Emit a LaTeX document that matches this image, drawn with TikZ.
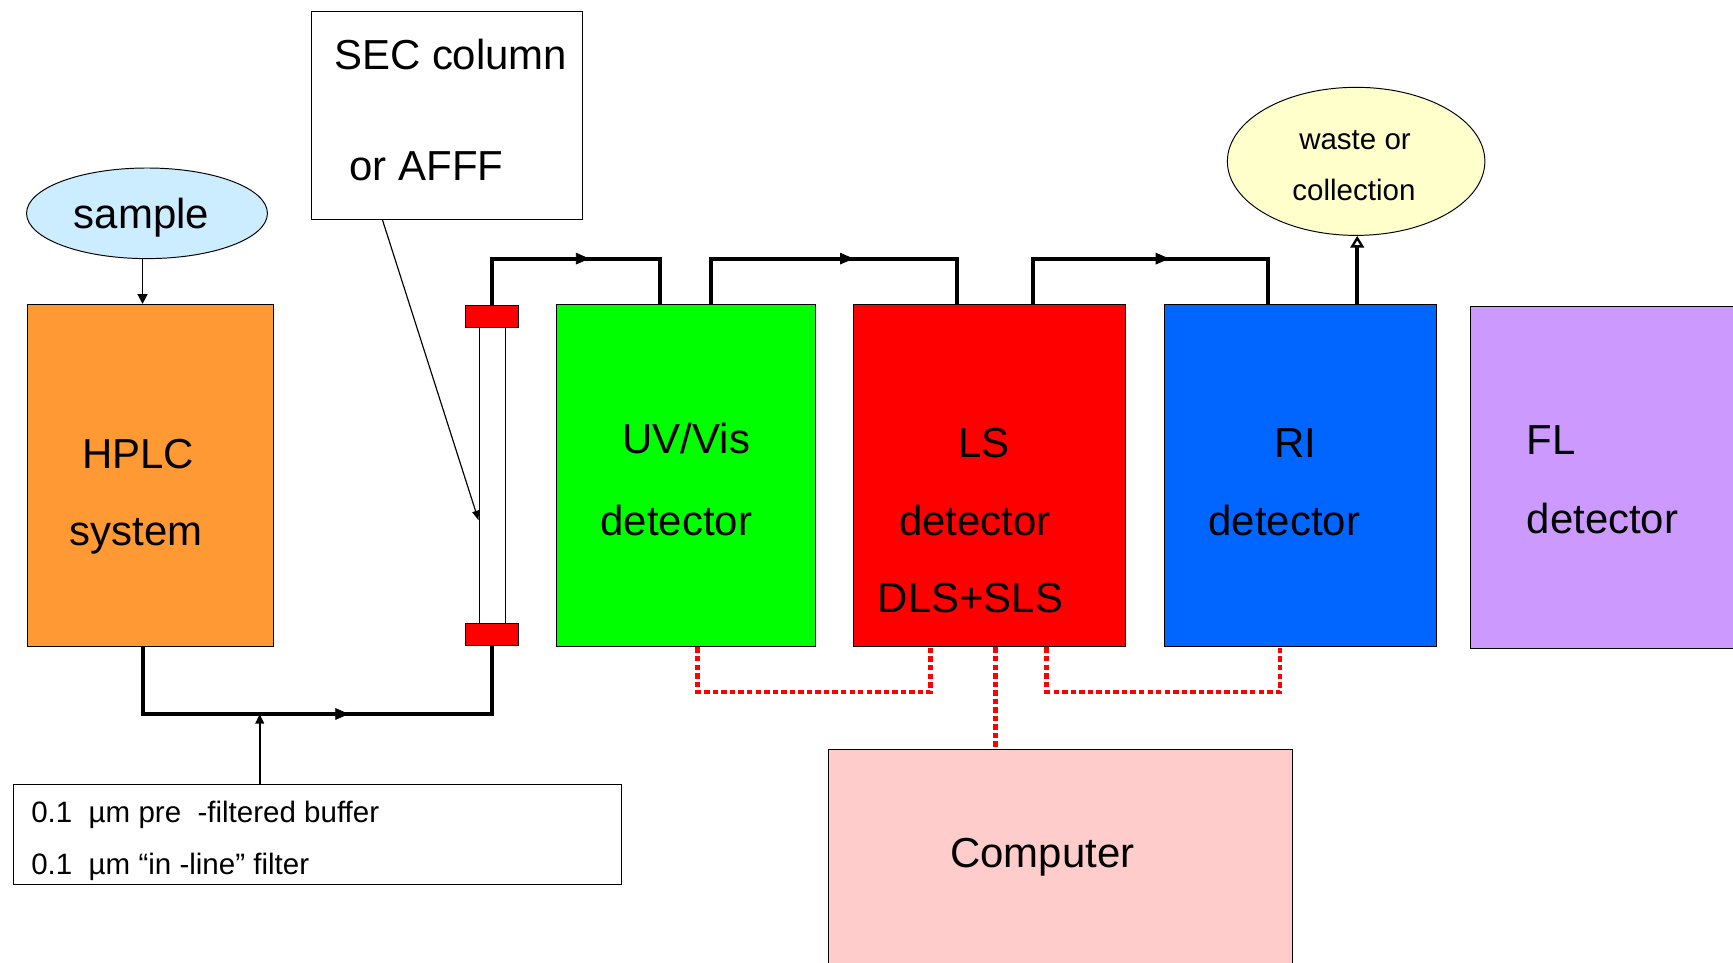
\documentclass[tikz,border=0pt]{standalone}
\usepackage{fontspec}
\setmainfont{Liberation Sans}
\usetikzlibrary{arrows.meta,calc,decorations.markings,shapes.geometric}
\definecolor{samplebl}{HTML}{CCECFF}
\definecolor{hplcor}{HTML}{FF9933}
\definecolor{uvgreen}{HTML}{00FF00}
\definecolor{lsred}{HTML}{FF0000}
\definecolor{riblue}{HTML}{0066FF}
\definecolor{flviolet}{HTML}{CC99FF}
\definecolor{comppink}{HTML}{FFCCCC}
\definecolor{wasteyel}{HTML}{FFFFCC}
\begin{document}
\begin{tikzpicture}[x=0.02cm,y=-0.02cm,
  box/.style={draw=black, line width=0.5pt, inner sep=0pt, anchor=north west},
  oval/.style={ellipse, draw=black, line width=0.5pt, inner sep=0pt},
  big/.style={font=\fontsize{21.6}{26}\selectfont, anchor=base, inner sep=0pt},
  small/.style={font=\fontsize{15.2}{18}\selectfont, anchor=base, inner sep=0pt},
  flow/.style={line width=2pt, line join=miter},
  midarrow/.style={postaction={decorate}, decoration={markings, mark=at position #1 with {\arrow{Triangle[length=7pt,width=6pt]}}}},
  dots/.style={draw=lsred, line width=2.4pt, dash pattern=on 2.8pt off 1.6pt}
]
\clip (0,0) rectangle (1568,871);
\fill[white] (0,0) rectangle (1568,871);

% boxes
\node[oval, fill=samplebl, minimum width=4.36cm, minimum height=1.64cm] (sample) at (133,193) {};
\node[box, fill=hplcor, minimum width=4.46cm, minimum height=6.2cm] (hplc) at (24,275) {};
\node[box, fill=white, minimum width=4.92cm, minimum height=3.76cm] (sec) at (281,10) {};
\node[box, fill=white, minimum width=0.48cm, minimum height=5.36cm] (tube) at (433,296) {};
\node[box, fill=lsred, minimum width=0.96cm, minimum height=0.4cm] (topcap) at (421,276) {};
\node[box, fill=lsred, minimum width=0.96cm, minimum height=0.4cm] (botcap) at (421,564) {};
\node[box, fill=uvgreen, minimum width=4.68cm, minimum height=6.2cm] (green) at (503,275) {};
\node[box, fill=lsred, minimum width=4.92cm, minimum height=6.2cm] (red) at (772,275) {};
\node[box, fill=riblue, minimum width=4.92cm, minimum height=6.2cm] (blue) at (1053,275) {};
\node[box, fill=flviolet, minimum width=5.4cm, minimum height=6.18cm] (fl) at (1330,277) {};
\node[box, fill=comppink, minimum width=8.4cm, minimum height=4.5cm] (computer) at (749,678) {};
\node[box, fill=white, minimum width=11cm, minimum height=1.82cm] (buffer) at (12,709) {};
\node[oval, fill=wasteyel, minimum width=4.66cm, minimum height=2.68cm] (waste) at (1227,146) {};

% helper coordinates
\coordinate (flowy) at (0,234);
\coordinate (flowb) at (0,646);
\coordinate (doty) at (0,626);
\coordinate (g1) at ($(green.north west)+(94,0)$);
\coordinate (g2) at ($(green.north west)+(140,0)$);
\coordinate (r1) at ($(red.north west)+(94,0)$);
\coordinate (r2) at ($(red.north west)+(163,0)$);
\coordinate (b1) at ($(blue.north west)+(94,0)$);
\coordinate (b2) at ($(blue.north west)+(175,0)$);
\coordinate (h1) at ($(hplc.south west)+(105,0)$);
\coordinate (bf1) at ($(buffer.north west)+(223,0)$);
\coordinate (s1) at ($(sec.south west)+(65,0)$);
\coordinate (s2) at ($(tube.south west)+(0,-94)$);
\coordinate (dg) at ($(green.south west)+(128,0)$);
\coordinate (dr1) at ($(red.south west)+(70,0)$);
\coordinate (dr2) at ($(red.south west)+(129,0)$);
\coordinate (dr3) at ($(red.south west)+(175,0)$);
\coordinate (db) at ($(blue.south west)+(105,0)$);

% flow lines
\draw[flow] (topcap.north) -- (topcap.north |- flowy) -- (g1 |- flowy) -- (g1);
\path[midarrow=0.58] (topcap.north |- flowy) -- (g1 |- flowy);
\draw[flow] (g2) -- (g2 |- flowy) -- (r1 |- flowy) -- (r1);
\path[midarrow=0.58] (g2 |- flowy) -- (r1 |- flowy);
\draw[flow] (r2) -- (r2 |- flowy) -- (b1 |- flowy) -- (b1);
\path[midarrow=0.58] (r2 |- flowy) -- (b1 |- flowy);
\draw[flow, -{Triangle[open,length=6pt,width=7pt,line width=1.2pt]}] (b2) -- (b2 |- waste.south);
\draw[flow] (h1) -- (h1 |- flowb) -- (botcap.south |- flowb) -- (botcap.south);
\path[midarrow=0.59] (h1 |- flowb) -- (botcap.south |- flowb);

% thin arrows
\draw[line width=0.9pt, -{Triangle[length=5pt,width=5pt]}] (h1 |- sample.south) -- (h1 |- hplc.north);
\draw[line width=0.8pt, -{Triangle[length=5pt,width=4.5pt]}] (bf1) -- (bf1 |- flowb);
\draw[line width=0.6pt, -{Triangle[length=5pt,width=3.5pt]}] (s1) -- (s2);

% signal lines
\draw[dots] (dg) -- (dg |- doty) -- (dr1 |- doty) -- (dr1);
\draw[dots] (dr2) -- (dr2 |- computer.north);
\draw[dots] (dr3) -- (dr3 |- doty) -- (db |- doty) -- (db);

% texts
\node[big] (t-sample) at (128,207) {sample};
\node[big] (t-hplc1) at (125,424) {HPLC};
\node[big] (t-hplc2) at (123,494) {system};
\node[big, anchor=base west] (t-sec1) at (302,62.5) {SEC column};
\node[big, anchor=base west] (t-sec2) at (316,163) {or AFFF};
\node[big] (t-uv1) at (621,410) {UV/Vis};
\node[big] (t-uv2) at (612,484.5) {detector};
\node[big] (t-ls1) at (890,414) {LS};
\node[big] (t-ls2) at (882,484.5) {detector};
\node[big] (t-ls3) at (878,554) {DLS+SLS};
\node[big] (t-ri1) at (1172,414) {RI};
\node[big] (t-ri2) at (1162,484.5) {detector};
\node[big, anchor=base west] (t-fl1) at (1381,411) {FL};
\node[big, anchor=base west] (t-fl2) at (1381,482.5) {detector};
\node[small] (t-w1) at (1226,135) {waste or};
\node[small] (t-w2) at (1225,181.5) {collection};
\node[small, anchor=base west] (t-b1) at (28,744) {0.1\ \ µm pre\ \ -filtered buffer};
\node[small, anchor=base west] (t-b2) at (28,791) {0.1\ \ µm “in -line” filter};
\node[big] (t-comp) at (943,785) {Computer};
\end{tikzpicture}
\end{document}
